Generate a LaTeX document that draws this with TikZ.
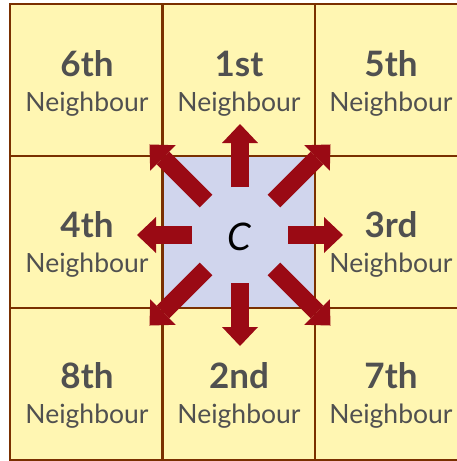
\documentclass[tikz,border=0pt]{standalone}
\usepackage{fontspec}
\setmainfont{Lato}
\usetikzlibrary{arrows.meta}

\definecolor{cellyellow}{RGB}{255,246,178}
\definecolor{celllav}{RGB}{208,213,237}
\definecolor{gridbrown}{RGB}{122,48,0}
\definecolor{arrowred}{RGB}{154,10,20}
\definecolor{labelgray}{RGB}{80,80,80}

\tikzset{
  cell/.style={draw=gridbrown, line width=2.5pt, fill=cellyellow,
    minimum width=152.5pt, minimum height=152pt, inner sep=0pt, outer sep=0pt},
  num/.style={font=\fontsize{35}{35}\selectfont\bfseries, text=labelgray, anchor=base, inner sep=0pt},
  word/.style={font=\fontsize{26.5}{26.5}\selectfont, text=labelgray, anchor=base, inner sep=0pt},
  nbarrow/.style={arrowred, line width=18pt,
    -{Triangle[width=36pt,length=19pt,line width=0pt]}},
}

\begin{document}
\begin{tikzpicture}[x=1pt,y=-1pt]
  \useasboundingbox (0,0) rectangle (457,461);
  \clip (0,0) rectangle (457,461);
  % neighbour cells
  \foreach \n/\i/\j in {6/0/0,1/1/0,5/2/0,4/0/1,3/2/1,8/0/2,2/1/2,7/2/2}
    \node[cell] (n\n) at (86.25+152.5*\i, 79.75+152*\j) {};
  \node[cell, fill=celllav] (c) at (238.75,231.75) {};
  % labels
  \foreach \n/\t/\x/\y in {6/6th/87/76, 1/1st/239/76, 5/5th/391/76,
      4/4th/87/237, 3/3rd/391/237, 8/8th/87/388, 2/2nd/239/388, 7/7th/391/388} {
    \node[num] (l\n) at (\x,\y) {\t};
    \node[word] (w\n) at (\x,\y+35) {Neighbour};
  }
  \node[font=\fontsize{38}{38}\selectfont\itshape] (lc) at (239.5,236.5) {C};
  % arrows out of the centre
  \coordinate (o) at (240,235);
  \foreach \a in {0,180}
    \draw[nbarrow] (o) ++(\a:48pt) -- ++(\a:55pt);
  \foreach \a in {90,270}
    \draw[nbarrow] (o) ++(\a:48pt) -- ++(\a:63pt);
  \foreach \a in {45,135,225,315}
    \draw[nbarrow] (o) ++(\a:48pt) -- ++(\a:80pt);
\end{tikzpicture}
\end{document}
